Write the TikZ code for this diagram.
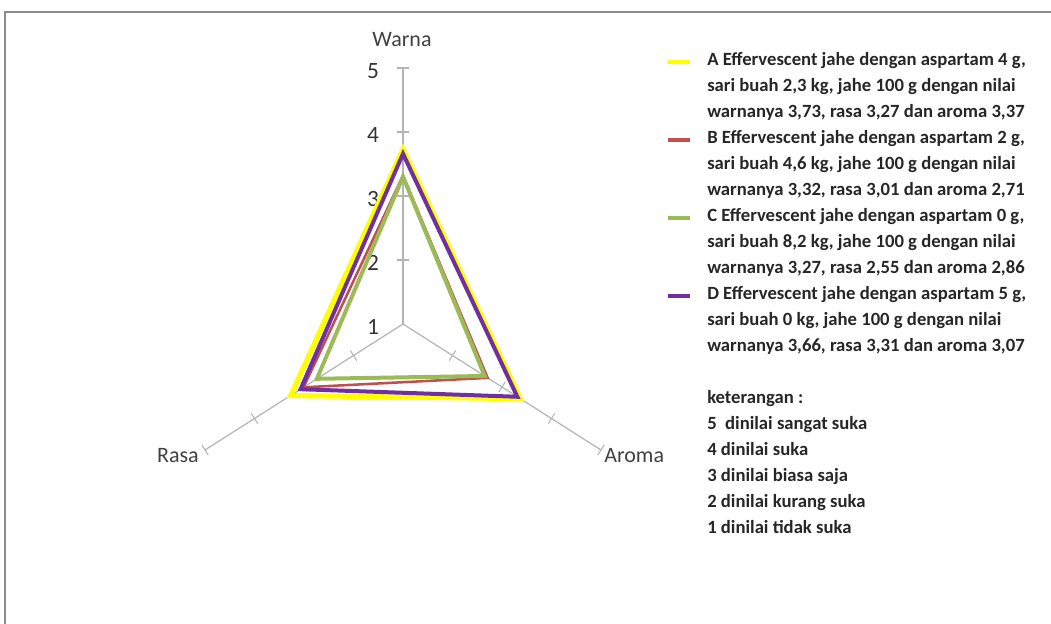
\documentclass[tikz,border=0pt]{standalone}
\usepackage{fontspec}
\setmainfont{Carlito}
\usetikzlibrary{calc, positioning}

\definecolor{seriesA}{HTML}{FFFF00}
\definecolor{seriesB}{HTML}{C0504D}
\definecolor{seriesC}{HTML}{9BBB59}
\definecolor{seriesD}{HTML}{7030A0}
\definecolor{axisgray}{HTML}{B4B4B4}
\definecolor{labelgray}{HTML}{404040}
\definecolor{framegray}{HTML}{8C8C8C}

\begin{document}
\begin{tikzpicture}[
        x = 0.75pt,
        y = -0.75pt,
        axis/.style = {draw = axisgray, line width = 0.9pt},
        tickmark/.style = {draw = axisgray, line width = 0.8pt},
        axislabel/.style = {text = labelgray, inner sep = 0pt, font = \fontsize{16.5}{18}\selectfont},
        scalelabel/.style = {text = labelgray!80!black, inner sep = 0pt, font = \fontsize{17.5}{19}\selectfont},
        legtext/.style = {anchor = west, inner sep = 0pt, text height = 1.5ex, text depth = .3ex,
                          text = black!85, font = \fontsize{14}{16}\selectfont\bfseries},
        swatch/.style = {minimum width = 16.5pt, minimum height = 3.5pt, inner sep = 0pt},
        seriesline/.style = {line join = miter}
      ]
      \useasboundingbox (0,0) rectangle (1051,624);

      % frame
      \draw[framegray, line width = 1pt] (5,624) -- (5,12) -- (1051,12);

      % axes
      \coordinate (O) at (403,324);
      \coordinate (warna) at (403,68);
      \coordinate (rasa) at (205,450);
      \coordinate (aroma) at (601,450);
      \foreach \ax in {warna, rasa, aroma} {
        \draw[axis] (O) -- (\ax);
        \foreach \v in {2,...,5} {
          \pgfmathsetmacro\frc{(\v-1)/4}
          \coordinate (\ax-\v) at ($(O)!\frc!(\ax)$);
          \draw[tickmark] ($(\ax-\v)!4.5pt!90:(O)$) -- ($(\ax-\v)!4.5pt!-90:(O)$);
        }
      }

      % scale and axis labels
      \foreach \v in {1,...,5}
        \node[scalelabel] (num\v) at (373, 391 - 64*\v) {\v};
      \node[axislabel] (lWarna) at (402,40) {Warna};
      \node[axislabel, anchor = east] (lRasa) at (199,456) {Rasa};
      \node[axislabel, anchor = west] (lAroma) at (604,456) {Aroma};

      % series (values as plotted)
      \foreach \sname/\lw/\vw/\vr/\va in {A/3.8/3.73/3.27/3.37, B/1.9/3.32/3.01/2.71,
                                          C/3.0/3.30/2.74/2.65, D/3.0/3.66/3.07/3.31} {
        \pgfmathsetmacro\fw{(\vw-1)/4}
        \pgfmathsetmacro\fr{(\vr-1)/4}
        \pgfmathsetmacro\fa{(\va-1)/4}
        \coordinate (\sname-w) at ($(O)!\fw!(warna)$);
        \coordinate (\sname-r) at ($(O)!\fr!(rasa)$);
        \coordinate (\sname-a) at ($(O)!\fa!(aroma)$);
        \draw[seriesline, draw = series\sname, line width = \lw pt]
          (\sname-w) -- (\sname-r) -- (\sname-a) -- cycle;
      }

      % legend
      \foreach \txt [count = \i from 0] in {
          {A Effervescent jahe dengan aspartam 4 g,},
          {sari buah 2,3 kg, jahe 100 g dengan nilai},
          {warnanya 3,73, rasa 3,27 dan aroma 3,37},
          {B Effervescent jahe dengan aspartam 2 g,},
          {sari buah 4,6 kg, jahe 100 g dengan nilai},
          {warnanya 3,32, rasa 3,01 dan aroma 2,71},
          {C Effervescent jahe dengan aspartam 0 g,},
          {sari buah 8,2 kg, jahe 100 g dengan nilai},
          {warnanya 3,27, rasa 2,55 dan aroma 2,86},
          {D Effervescent jahe dengan aspartam 5 g,},
          {sari buah 0 kg, jahe 100 g dengan nilai},
          {warnanya 3,66, rasa 3,31 dan aroma 3,07}}
        \node[legtext] (row\i) at (707, 62 + 26*\i) {\txt};
      \foreach \sname/\i in {A/0, B/3, C/6, D/9}
        \node[swatch, fill = series\sname] (key\sname) at (679, 62 + 26*\i) {};

      % keterangan
      \foreach \txt [count = \i from 13] in {
          {keterangan :},
          {5\ \ dinilai sangat suka},
          {4 dinilai suka},
          {3 dinilai biasa saja},
          {2 dinilai kurang suka},
          {1 dinilai tidak suka}}
        \node[legtext] (row\i) at (707, 62 + 26*\i) {\txt};
    \end{tikzpicture}
\end{document}
